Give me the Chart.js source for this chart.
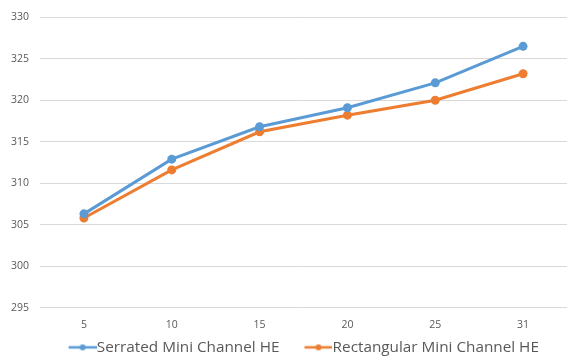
<!DOCTYPE html>
<html>
<head>
<meta charset="utf-8">
<script src="https://cdn.jsdelivr.net/npm/chart.js@4"></script>
<style>
  html, body { margin: 0; padding: 0; background: #fff; }
  #wrap { width: 567px; height: 358px; }
</style>
</head>
<body>
<div id="wrap"><canvas id="chart"></canvas></div>
<script>
"use strict";
// ========== DATA ========== //
const xLabels = ["5", "10", "15", "20", "25", "31"];
const serrated = [306.3, 312.9, 316.8, 319.1, 322.1, 326.5];
const rectangular = [305.8, 311.6, 316.2, 318.2, 320.0, 323.2];
const yTicks = [295, 300, 305, 310, 315, 320, 325, 330];

const blue = "#5B9BD5";
const orange = "#ED7D31";
const textColor = "#595959";

// legend box width, the icon is a line with a dot (excel style)
const legendBox = 43;

function legendIcon(color) {
  let c = document.createElement("canvas");
  c.width = legendBox + 15;
  c.height = 10;
  let ctx = c.getContext("2d");
  let x0 = c.width - 28;
  ctx.strokeStyle = color;
  ctx.lineWidth = 2.5;
  ctx.beginPath();
  ctx.moveTo(x0, 5);
  ctx.lineTo(c.width, 5);
  ctx.stroke();
  ctx.fillStyle = color;
  ctx.beginPath();
  ctx.arc(x0 + 14, 5, 3, 0, Math.PI * 2);
  ctx.fill();
  return c;
}

// nudge the legend a bit up / to the right
const legendNudge = {
  id: "legendNudge",
  afterLayout(chart) {
    chart.legend.top -= 5;
    chart.legend.bottom -= 5;
    chart.legend.left += 9;
    chart.legend.right += 9;
  }
};

let chart = new Chart(document.querySelector("#chart"), {
  type: "line",
  data: {
    labels: xLabels,
    datasets: [
      {
        label: "Serrated Mini Channel HE",
        data: serrated,
        borderColor: blue,
        backgroundColor: blue,
        borderWidth: 3,
        pointRadius: 3,
        pointBackgroundColor: blue,
        pointBorderColor: blue,
        fill: false,
        tension: 0
      },
      {
        label: "Rectangular Mini Channel HE",
        data: rectangular,
        borderColor: orange,
        backgroundColor: orange,
        borderWidth: 3,
        pointRadius: 3,
        pointBackgroundColor: orange,
        pointBorderColor: orange,
        fill: false,
        tension: 0
      }
    ]
  },
  plugins: [legendNudge],
  options: {
    responsive: true,
    maintainAspectRatio: false,
    animation: false,
    layout: { autoPadding: false, padding: { top: 16, right: 0, left: 0, bottom: -12 } },
    plugins: {
      tooltip: { enabled: false },
      legend: {
        position: "bottom",
        labels: {
          usePointStyle: true,
          pointStyleWidth: legendBox,
          color: textColor,
          font: { family: "Open Sans", size: 15.3 },
          padding: 2.5,
          generateLabels: function (ch) {
            return ch.data.datasets.map((ds, i) => ({
              text: ds.label,
              fontColor: textColor,
              pointStyle: legendIcon(ds.borderColor),
              datasetIndex: i,
              hidden: false,
              lineWidth: 0
            }));
          }
        }
      }
    },
    scales: {
      x: {
        offset: true,
        grid: { display: false, drawTicks: false },
        border: { display: false },
        ticks: { color: textColor, font: { family: "Open Sans", size: 10.5 }, padding: 11 }
      },
      y: {
        min: yTicks[0],
        max: yTicks[yTicks.length - 1],
        grid: { color: "#d9d9d9", drawTicks: false },
        border: { display: false },
        afterBuildTicks: axis => { axis.ticks = yTicks.map(v => ({ value: v })); },
        ticks: { color: textColor, font: { family: "Open Sans", size: 10.5 }, padding: 11 }
      }
    }
  }
});
</script>
</body>
</html>
